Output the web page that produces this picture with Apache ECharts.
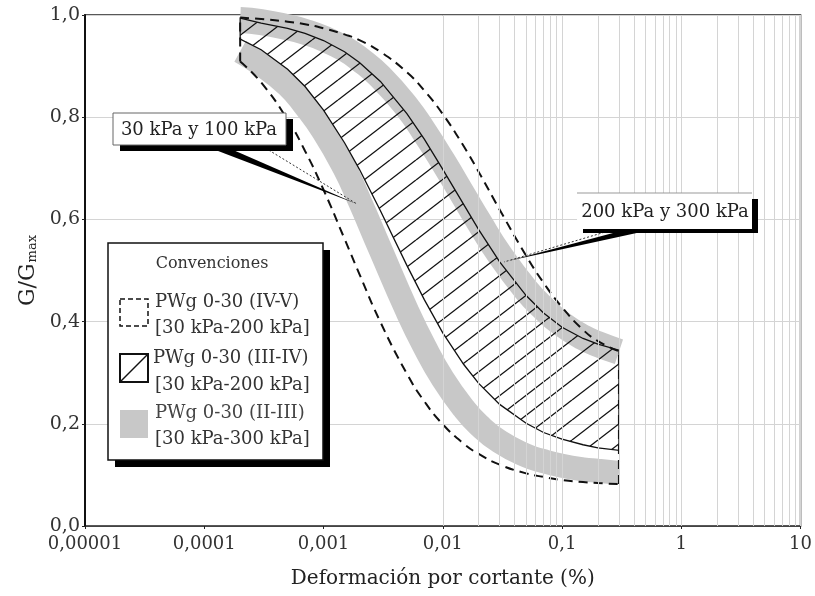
<!DOCTYPE html>
<html>
<head>
<meta charset="utf-8">
<script src="https://cdn.jsdelivr.net/npm/echarts@6/dist/echarts.min.js"></script>
<style>html,body{margin:0;padding:0;background:#fff;}#c{width:815px;height:596px;}</style>
</head>
<body>
<div id="c"></div>
<script>
// ---- data ----
const xValues = [0.0002, 0.0003, 0.0005, 0.0007, 0.001, 0.0015, 0.002, 0.003, 0.005, 0.007, 0.01, 0.015, 0.02, 0.03, 0.05, 0.07, 0.1, 0.15, 0.2, 0.3];
const dashedUpper = [0.995,0.992,0.987,0.982,0.974,0.962,0.951,0.928,0.888,0.852,0.806,0.743,0.693,0.619,0.529,0.476,0.428,0.384,0.362,0.342];
const dashedLower = [0.909,0.868,0.795,0.734,0.658,0.562,0.493,0.399,0.298,0.244,0.199,0.161,0.141,0.120,0.103,0.096,0.090,0.086,0.084,0.082];
const hatchUpper  = [0.994,0.984,0.974,0.964,0.950,0.928,0.907,0.870,0.807,0.757,0.698,0.629,0.580,0.517,0.451,0.417,0.389,0.367,0.356,0.344];
const hatchLower  = [0.953,0.932,0.894,0.860,0.814,0.750,0.698,0.617,0.510,0.443,0.378,0.316,0.279,0.238,0.201,0.183,0.170,0.159,0.153,0.148];
const grayUpper   = [0.990,0.986,0.976,0.967,0.954,0.934,0.914,0.879,0.820,0.771,0.714,0.645,0.596,0.531,0.462,0.426,0.395,0.369,0.356,0.341];
const grayLower   = [0.929,0.903,0.862,0.822,0.772,0.700,0.637,0.541,0.422,0.352,0.288,0.230,0.198,0.165,0.138,0.127,0.118,0.111,0.108,0.104];
const xTickLabels = ['0,00001','0,0001','0,001','0,01','0,1','1','10'];
const yTickLabels = ['0,0','0,2','0,4','0,6','0,8','1,0'];
const decades = [0.00001, 0.0001, 0.001, 0.01, 0.1, 1];
const minorMultipliers = [2,3,4,5,6,7,8,9];
const legendTitle = 'Convenciones';
const legendItems = [['PWg 0-30 (IV-V)','[30 kPa-200 kPa]'],['PWg 0-30 (III-IV)','[30 kPa-200 kPa]'],['PWg 0-30 (II-III)','[30 kPa-300 kPa]']];
const note1 = '30 kPa y 100 kPa';
const note2 = '200 kPa y 300 kPa';

const FF = "'DejaVu Serif', serif";
const pairs = (ys) => xValues.map((x, i) => [x, ys[i]]);
const minorX = [];
decades.forEach(d => minorMultipliers.forEach(m => minorX.push(d * m)));
decades.concat([10]).forEach(d => minorX.push(d));

// hatch pattern tile
const tw = 26, th = 20;
const tile = document.createElement('canvas');
tile.width = tw; tile.height = th;
const tctx = tile.getContext('2d');
tctx.strokeStyle = '#111'; tctx.lineWidth = 1.3;
for (let k = 0; k <= 2; k++) {
  tctx.beginPath(); tctx.moveTo(0, k * th); tctx.lineTo(tw, (k - 1) * th); tctx.stroke();
}

const chart = echarts.init(document.getElementById('c'), null, {renderer: 'canvas'});
const last = xValues.length - 1;
const dashStyle = {color: '#111', width: 2, type: [9, 6]};

const option = {
  animation: false,
  backgroundColor: '#fff',
  grid: {left: 85, right: 13, top: 15, bottom: 70, show: true, borderColor: '#222', borderWidth: 1.5},
  xAxis: {
    type: 'log', logBase: 10, min: 0.00001, max: 10, splitNumber: 6,
    name: 'Deformación por cortante (%)', nameLocation: 'middle', nameGap: 43,
    nameTextStyle: {fontFamily: FF, fontSize: 20, color: '#222'},
    axisLine: {show: true, lineStyle: {color: '#444', width: 1.2}},
    axisTick: {show: true, length: 3, lineStyle: {color: '#222'}},
    axisLabel: {fontFamily: FF, fontSize: 18, color: '#333', margin: 9,
      formatter: (v) => xTickLabels[Math.round(Math.log10(v)) + 5]},
    splitLine: {show: false}
  },
  yAxis: {
    type: 'value', min: 0, max: 1, interval: 0.2,
    name: 'G/G{s|max}', nameLocation: 'middle', nameGap: 42, nameRotate: 90,
    nameTextStyle: {fontFamily: FF, fontSize: 22, color: '#222',
      rich: {s: {fontFamily: FF, fontSize: 13, color: '#222', padding: [9, 0, 0, 1]}}},
    axisLine: {show: true, lineStyle: {color: '#111', width: 2}},
    axisTick: {show: true, length: 3, lineStyle: {color: '#222'}},
    axisLabel: {fontFamily: FF, fontSize: 19, color: '#333', margin: 5,
      formatter: (v) => yTickLabels[Math.round(v * 5)]},
    splitLine: {show: true, lineStyle: {color: '#d4d4d4', width: 1}}
  },
  series: [
    {type: 'line', data: [], z: 1, silent: true,
      markLine: {silent: true, symbol: 'none', label: {show: false}, animation: false,
        lineStyle: {color: '#d4d4d4', type: 'solid', width: 1},
        data: minorX.map(v => ({xAxis: v}))}},
    {type: 'line', data: pairs(grayUpper), smooth: true, symbol: 'none', z: 2,
      lineStyle: {color: '#c8c8c8', width: 26, cap: 'butt'}},
    {type: 'line', data: pairs(grayLower), smooth: true, symbol: 'none', z: 2,
      lineStyle: {color: '#c8c8c8', width: 24, cap: 'butt'}},
    {type: 'custom', z: 3, data: [[xValues[0], hatchUpper[0]]],
      renderItem: function (params, api) {
        const pts = [];
        xValues.forEach((x, i) => pts.push(api.coord([x, hatchUpper[i]])));
        for (let i = last; i >= 0; i--) pts.push(api.coord([xValues[i], hatchLower[i]]));
        return {type: 'polygon', shape: {points: pts},
          style: {fill: {image: tile, repeat: 'repeat'}, stroke: '#111', lineWidth: 1.3}};
      }},
    {type: 'line', data: pairs(dashedUpper), smooth: true, symbol: 'none', z: 4, lineStyle: dashStyle},
    {type: 'line', data: pairs(dashedLower), smooth: true, symbol: 'none', z: 4, lineStyle: dashStyle},
    {type: 'line', data: [[xValues[0], dashedLower[0]], [xValues[0], dashedUpper[0]]], symbol: 'none', z: 4, lineStyle: dashStyle},
    {type: 'line', data: [[xValues[last], dashedLower[last]], [xValues[last], dashedUpper[last]]], symbol: 'none', z: 4, lineStyle: dashStyle}
  ],
  graphic: [
    // annotation 1
    {type: 'polygon', z: 100, shape: {points: [[205, 146], [224, 146], [357, 204]]}, style: {fill: '#000'}},
    {type: 'line', z: 100, shape: {x1: 262, y1: 146, x2: 357, y2: 204}, style: {stroke: '#333', lineWidth: 1, lineDash: [2, 2]}},
    {type: 'rect', z: 100, shape: {x: 120, y: 119, width: 173, height: 32}, style: {fill: '#000'}},
    {type: 'rect', z: 100, shape: {x: 113, y: 113, width: 173, height: 32}, style: {fill: '#fff', stroke: '#666', lineWidth: 1}},
    {type: 'text', z: 100, x: 199, y: 130, style: {text: note1, font: '18px ' + FF, fill: '#222', align: 'center', verticalAlign: 'middle'}},
    // annotation 2
    {type: 'polygon', z: 100, shape: {points: [[628, 229], [655, 229], [508, 261]]}, style: {fill: '#000'}},
    {type: 'line', z: 100, shape: {x1: 612, y1: 230, x2: 504, y2: 262}, style: {stroke: '#333', lineWidth: 1, lineDash: [2, 2]}},
    {type: 'rect', z: 100, shape: {x: 583, y: 199, width: 175, height: 34}, style: {fill: '#000'}},
    {type: 'rect', z: 100, shape: {x: 577, y: 193, width: 175, height: 36}, style: {fill: '#fff'}},
    {type: 'line', z: 100, shape: {x1: 577, y1: 193, x2: 752, y2: 193}, style: {stroke: '#999', lineWidth: 1}},
    {type: 'text', z: 100, x: 665, y: 212, style: {text: note2, font: '18px ' + FF, fill: '#222', align: 'center', verticalAlign: 'middle'}},
    // legend box
    {type: 'rect', z: 100, shape: {x: 115, y: 250, width: 215, height: 217}, style: {fill: '#000'}},
    {type: 'rect', z: 100, shape: {x: 108, y: 243, width: 215, height: 217}, style: {fill: '#fff', stroke: '#111', lineWidth: 1.5}},
    {type: 'text', z: 100, x: 212, y: 264, style: {text: legendTitle, font: '16px ' + FF, fill: '#333', align: 'center', verticalAlign: 'middle'}},
    {type: 'rect', z: 100, shape: {x: 120, y: 299, width: 28, height: 27}, style: {fill: 'none', stroke: '#111', lineWidth: 1.5, lineDash: [5, 3]}},
    {type: 'rect', z: 100, shape: {x: 120, y: 354, width: 28, height: 28}, style: {fill: 'none', stroke: '#111', lineWidth: 2}},
    {type: 'line', z: 100, shape: {x1: 120, y1: 382, x2: 148, y2: 354}, style: {stroke: '#111', lineWidth: 1.5}},
    {type: 'rect', z: 100, shape: {x: 120, y: 410, width: 28, height: 28}, style: {fill: '#c8c8c8'}},
    {type: 'text', z: 100, x: 155, y: 302, style: {text: legendItems[0][0], font: '18px ' + FF, fill: '#333', verticalAlign: 'middle'}},
    {type: 'text', z: 100, x: 155, y: 328, style: {text: legendItems[0][1], font: '18px ' + FF, fill: '#333', verticalAlign: 'middle'}},
    {type: 'text', z: 100, x: 153, y: 358, style: {text: legendItems[1][0], font: '18px ' + FF, fill: '#333', verticalAlign: 'middle'}},
    {type: 'text', z: 100, x: 155, y: 385, style: {text: legendItems[1][1], font: '18px ' + FF, fill: '#333', verticalAlign: 'middle'}},
    {type: 'text', z: 100, x: 155, y: 413, style: {text: legendItems[2][0], font: '18px ' + FF, fill: '#444', verticalAlign: 'middle'}},
    {type: 'text', z: 100, x: 155, y: 439, style: {text: legendItems[2][1], font: '18px ' + FF, fill: '#333', verticalAlign: 'middle'}}
  ]
};
chart.setOption(option);
</script>
</body>
</html>
